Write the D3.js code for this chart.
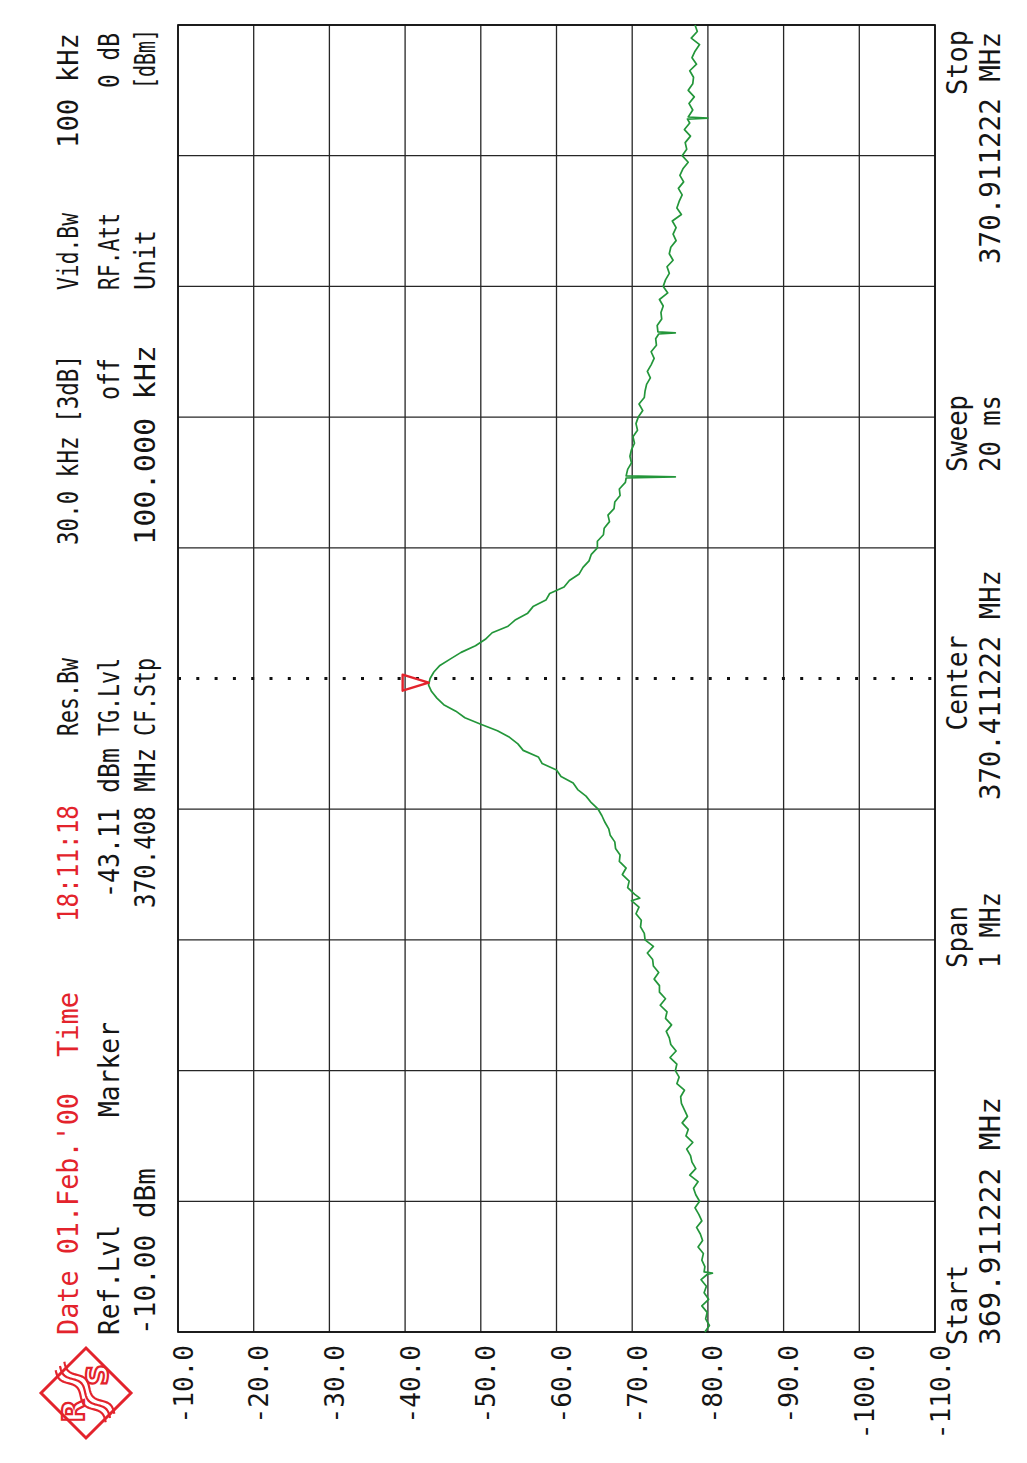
<!DOCTYPE html>
<html><head><meta charset="utf-8">
<script src="https://cdn.jsdelivr.net/npm/d3@7"></script>
<style>html,body{margin:0;padding:0;background:#fff;} svg{display:block;}</style>
</head><body>
<svg id="c" width="1027" height="1463"></svg>
<script>
// ---------------- data ----------------
const startMHz = 369.911222;
const stopMHz = 370.911222;
const centerMHz = 370.411222;
const freqGridMHz = [369.911222, 370.011222, 370.111222, 370.211222, 370.311222, 370.411222,
                     370.511222, 370.611222, 370.711222, 370.811222, 370.911222];
const levelTicks = [-10, -20, -30, -40, -50, -60, -70, -80, -90, -100, -110];
const markerMHz = 370.408;
const markerDbm = -43.11;
// trace: [kHz above start frequency, level dBm]
const trace = [
 [0,-79.6],[5,-80.2],[10,-79.7],[15,-79.9],[20,-79.2],[25,-80.1],[30,-79.5],[35,-79.8],[40,-79.1],
 [44,-79.9],[45,-80.6],[46,-79.5],[50,-79.6],[55,-79.2],[60,-79.4],[65,-78.7],[70,-79.3],[75,-79.0],
 [80,-78.5],[85,-79.2],[90,-78.8],[95,-78.3],[100,-78.9],[105,-78.4],[110,-78.1],[115,-78.7],
 [120,-77.6],[125,-78.4],[130,-77.9],[135,-77.7],[140,-77.2],[145,-78.0],[150,-77.1],[155,-77.4],
 [160,-76.6],[165,-77.3],[170,-76.9],[175,-76.5],[180,-76.4],[185,-76.9],[190,-75.9],[195,-76.2],
 [200,-75.7],[205,-75.9],[210,-75.0],[215,-75.8],[220,-75.1],[225,-74.9],[230,-74.5],[235,-75.2],
 [240,-74.4],[245,-74.6],[250,-73.7],[255,-74.4],[260,-73.6],[265,-73.6],[270,-72.9],[275,-73.5],
 [280,-72.8],[285,-72.7],[290,-72.0],[295,-72.8],[300,-71.7],[305,-71.6],[310,-71.1],[315,-71.2],
 [320,-70.5],[325,-70.9],[330,-69.9],[332,-71.0],[335,-70.3],[340,-69.4],[345,-69.6],[350,-68.7],
 [355,-69.2],[360,-68.3],[365,-68.4],[370,-67.8],[375,-67.7],[380,-67.1],[385,-66.9],[390,-66.4],
 [395,-66.0],[400,-65.5],[405,-64.6],[410,-63.9],[415,-62.8],[420,-62.2],[425,-60.6],[430,-60.0],
 [435,-58.1],[440,-57.6],[445,-55.6],[450,-54.9],[455,-53.8],[460,-52.2],[465,-50.0],[470,-47.9],
 [475,-46.7],[480,-45.1],[485,-44.2],[490,-43.5],[495,-43.1],[500,-43.3],[505,-43.8],[510,-44.6],
 [515,-46.0],[520,-47.4],[525,-49.3],[530,-50.6],[535,-51.5],[540,-53.6],[545,-54.6],[550,-56.2],
 [555,-56.9],[560,-58.6],[565,-59.1],[570,-61.0],[575,-61.7],[580,-63.0],[585,-63.5],[590,-64.3],
 [595,-64.6],[600,-65.4],[605,-65.4],[610,-66.2],[615,-66.3],[620,-67.0],[625,-66.8],[630,-67.6],
 [635,-67.7],[640,-68.4],[645,-68.3],[650,-69.1],[653.4,-69.2],[654.2,-75.7],[655,-69.2],[660,-69.4],
 [665,-69.9],[670,-69.7],[675,-69.9],[680,-70.3],[685,-70.1],[690,-70.7],[695,-70.5],[700,-70.8],
 [705,-71.4],[710,-70.9],[715,-71.6],[720,-71.7],[725,-71.9],[730,-72.4],[735,-72.0],[740,-72.5],
 [745,-72.9],[750,-72.5],[755,-73.2],[760,-73.1],[763.6,-73.5],[764.4,-75.7],[765.2,-73.4],[770,-73.3],
 [775,-73.9],[780,-73.8],[785,-74.1],[790,-73.6],[795,-74.7],[800,-74.1],[805,-74.4],[810,-74.9],
 [815,-74.6],[820,-75.4],[825,-74.9],[830,-75.1],[835,-75.8],[840,-75.4],[845,-75.8],[850,-75.3],
 [855,-76.5],[860,-75.9],[865,-76.2],[870,-76.6],[875,-76.1],[880,-76.8],[885,-76.3],[890,-76.7],
 [895,-77.4],[900,-76.6],[905,-77.2],[910,-77.0],[915,-77.7],[920,-76.9],[925,-77.6],[928,-77.3],
 [928.8,-80.0],[929.6,-77.4],[935,-78.0],[940,-77.5],[945,-78.2],[950,-77.4],[955,-78.0],[960,-78.1],
 [965,-77.6],[970,-78.5],[975,-77.9],[980,-78.3],[985,-78.9],[990,-77.8],[995,-78.6],[1000,-78.3]
];
const headerRed = ["Date 01.Feb.'00", "Time", "18:11:18"];
const headerText = ["Ref.Lvl", "-10.00 dBm", "Marker", "-43.11 dBm", "370.408 MHz",
                    "Res.Bw", "TG.Lvl", "CF.Stp", "30.0 kHz [3dB]", "off", "100.000 kHz",
                    "Vid.Bw", "RF.Att", "Unit", "100 kHz", "0 dB", "[dBm]"];
const footerText = ["Start", "369.911222 MHz", "Span", "1 MHz", "Center", "370.411222 MHz",
                    "Sweep", "20 ms", "Stop", "370.911222 MHz"];

// ---------------- drawing ----------------
const W = 1027, H = 1463;
const FONT = "'DejaVu Sans Mono', 'Liberation Mono', monospace";
const RED = "#e3232c", GREEN = "#23963a", INK = "#151515";
const svg = d3.select("#c");
svg.append("rect").attr("width", W).attr("height", H).attr("fill", "#fff");
// the whole analyzer display is rotated by -90 degrees
const g = svg.append("g").attr("transform", `translate(0,${H}) rotate(-90)`);

const x = d3.scaleLinear().domain([startMHz, stopMHz]).range([131, 1438]);
const y = d3.scaleLinear().domain([-10, -110]).range([178, 935]);

// grid
g.append("g").selectAll("line")
  .data(freqGridMHz.filter(f => Math.abs(f - centerMHz) > 1e-6))
  .join("line")
  .attr("x1", d => x(d)).attr("x2", d => x(d))
  .attr("y1", y(-10)).attr("y2", y(-110))
  .attr("stroke", "#262626").attr("stroke-width", 1.3);
g.append("g").selectAll("line")
  .data(levelTicks)
  .join("line")
  .attr("x1", x(startMHz)).attr("x2", x(stopMHz))
  .attr("y1", d => y(d)).attr("y2", d => y(d))
  .attr("stroke", "#262626").attr("stroke-width", 1.3);
// dotted center-frequency line
g.append("line")
  .attr("x1", x(centerMHz)).attr("x2", x(centerMHz))
  .attr("y1", y(-10)).attr("y2", y(-110))
  .attr("stroke", "#111").attr("stroke-width", 3.2)
  .attr("stroke-dasharray", "3 15.3");
// frame
g.append("rect")
  .attr("x", x(startMHz)).attr("y", y(-10))
  .attr("width", x(stopMHz) - x(startMHz)).attr("height", y(-110) - y(-10))
  .attr("fill", "none").attr("stroke", "#111").attr("stroke-width", 1.7);

// level axis labels
const ax = g.append("g").attr("transform", `translate(${x(startMHz)},0)`)
  .call(d3.axisLeft(y).tickValues(levelTicks).tickSize(0).tickPadding(13)
        .tickFormat(d => d.toFixed(1)));
ax.select(".domain").remove();
ax.selectAll("text")
  .attr("dy", 14)
  .attr("font-family", FONT).attr("font-size", 26).attr("fill", INK)
  .attr("textLength", d => d.toFixed(1).length * 15.7)
  .attr("lengthAdjust", "spacingAndGlyphs");

// trace
const line = d3.line()
  .x(d => x(startMHz + d[0] / 1000))
  .y(d => y(d[1]));
g.append("path").datum(trace)
  .attr("d", line)
  .attr("fill", "none").attr("stroke", GREEN).attr("stroke-width", 1.7)
  .attr("stroke-linejoin", "round");

// marker triangle
const mx = x(markerMHz), my = y(markerDbm);
g.append("path")
  .attr("d", `M${mx},${my} L${mx - 8},${my - 26} L${mx + 8},${my - 26} Z`)
  .attr("fill", "none").attr("stroke", RED).attr("stroke-width", 2.4)
  .attr("stroke-linejoin", "round");

// text helper
function label(str, xp, yp, len, color, anchor) {
  g.append("text")
    .attr("x", xp).attr("y", yp)
    .attr("text-anchor", anchor || "start")
    .attr("font-family", FONT).attr("font-size", 29)
    .attr("fill", color)
    .attr("textLength", len).attr("lengthAdjust", "spacingAndGlyphs")
    .text(str);
}
const row = [78, 119, 155];
const redLayout = [[128, 242], [406, 65], [541, 117]];
headerRed.forEach((s, i) => label(s, redLayout[i][0], row[0], redLayout[i][1], RED));
const headLayout = [
  [128, 1, 110], [128, 2, 167], [346, 1, 95], [715, 1, 150, "end"], [715, 2, 160, "end"],
  [727, 0, 78], [727, 1, 78], [727, 2, 78], [918, 0, 190], [1105, 1, 42, "end"], [918, 2, 200],
  [1173, 0, 77], [1173, 1, 77], [1173, 2, 60], [1315, 0, 115], [1430, 1, 55, "end"], [1374, 2, 60]
];
headerText.forEach((s, i) => {
  const L = headLayout[i];
  label(s, L[0], row[L[1]], L[2], INK, L[3]);
});
const frow = [967, 1000];
const footLayout = [
  [118, 0, 80], [118, 1, 248], [495, 0, 62], [495, 1, 76], [780, 0, 95, "middle"],
  [778, 1, 230, "middle"], [991, 0, 77], [991, 1, 77], [1433, 0, 65, "end"], [1431, 1, 232, "end"]
];
footerText.forEach((s, i) => {
  const L = footLayout[i];
  label(s, L[0], frow[L[1]], L[2], INK, L[3]);
});

// R&S logo
const lg = g.append("g");
const cx = 70, cy = 86, r = 45;
lg.append("path")
  .attr("d", `M${cx},${cy - r} L${cx + r},${cy} L${cx},${cy + r} L${cx - r},${cy} Z`)
  .attr("fill", "none").attr("stroke", RED).attr("stroke-width", 3);
const p0 = [97, 60], p1 = [45, 110];
const dx = p1[0] - p0[0], dy = p1[1] - p0[1], dl = Math.hypot(dx, dy);
const nx = -dy / dl, ny = dx / dl;
[-6, 0, 6].forEach(off => {
  const pts = d3.range(0, 1.001, 0.02).map(t => {
    const w = off + 3.5 * Math.sin(t * Math.PI * 4);
    return [p0[0] + dx * t + nx * w, p0[1] + dy * t + ny * w];
  });
  lg.append("path").attr("d", d3.line()(pts))
    .attr("fill", "none").attr("stroke", RED).attr("stroke-width", 2.2);
});
lg.append("text").attr("x", 52).attr("y", 84).attr("text-anchor", "middle")
  .attr("font-family", "'DejaVu Sans', sans-serif").attr("font-weight", "bold")
  .attr("font-size", 30).attr("fill", "none").attr("stroke", RED).attr("stroke-width", 2.2)
  .text("R");
lg.append("text").attr("x", 88).attr("y", 108).attr("text-anchor", "middle")
  .attr("font-family", "'DejaVu Sans', sans-serif").attr("font-weight", "bold")
  .attr("font-size", 30).attr("fill", "none").attr("stroke", RED).attr("stroke-width", 2.2)
  .text("S");
</script>
</body></html>
